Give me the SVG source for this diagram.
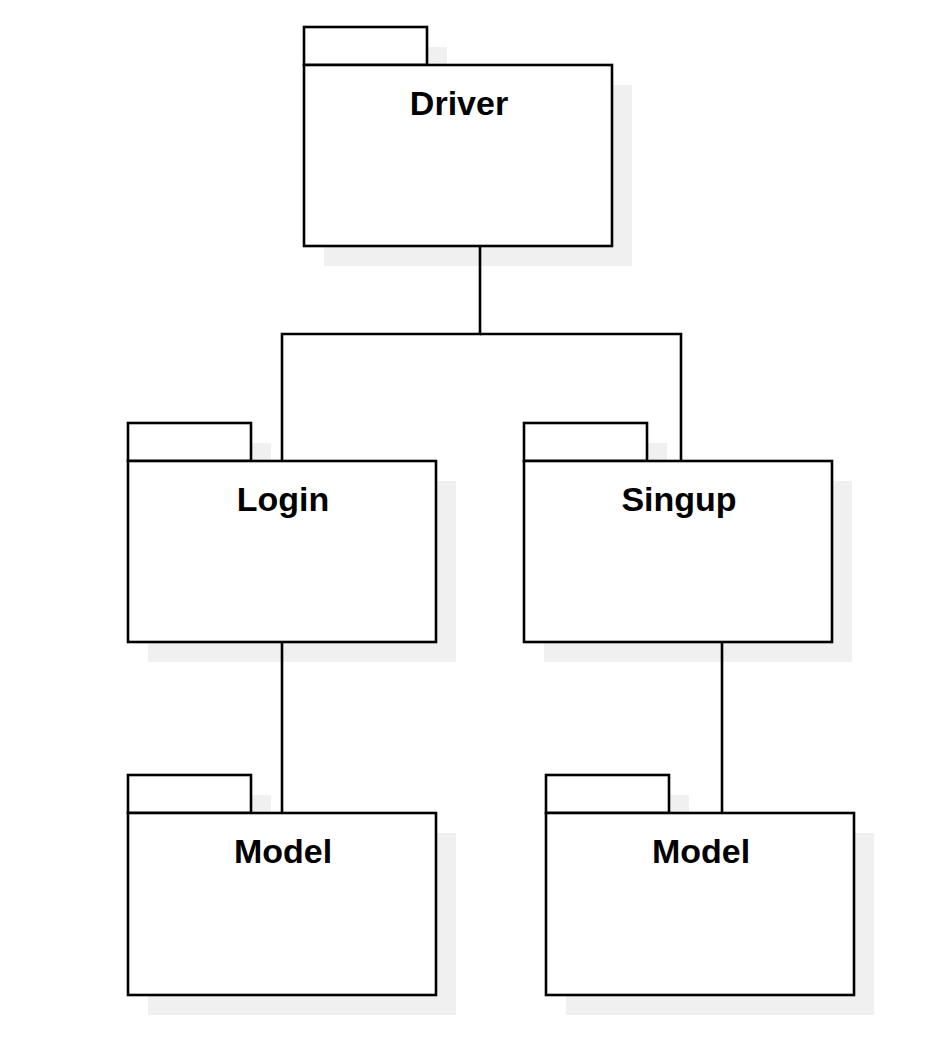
<svg xmlns="http://www.w3.org/2000/svg" width="948" height="1053" viewBox="0 0 948 1053">
<defs>
<style>
.sh{fill:#f0f0f0;stroke:none}
.bx{fill:#ffffff;stroke:#000000;stroke-width:2.6}
.lb{font-family:"Liberation Sans",Arial,sans-serif;font-weight:bold;font-size:34px;fill:#000000;text-anchor:middle}
.cn{fill:none;stroke:#000000;stroke-width:2.6}
</style>
</defs>
<rect width="948" height="1053" fill="#ffffff"/>
<g id="driver">
<rect class="sh" x="324" y="47" width="123" height="38"/>
<rect class="sh" x="324" y="85" width="308" height="181"/>
<rect class="bx" x="304" y="27" width="123" height="38"/>
<rect class="bx" x="304" y="65" width="308" height="181"/>
<text class="lb" x="459" y="115">Driver</text>
</g>
<g id="login">
<rect class="sh" x="148" y="443" width="123" height="38"/>
<rect class="sh" x="148" y="481" width="308" height="181"/>
<rect class="bx" x="128" y="423" width="123" height="38"/>
<rect class="bx" x="128" y="461" width="308" height="181"/>
<text class="lb" x="283" y="511">Login</text>
</g>
<g id="singup">
<rect class="sh" x="544" y="443" width="123" height="38"/>
<rect class="sh" x="544" y="481" width="308" height="181"/>
<rect class="bx" x="524" y="423" width="123" height="38"/>
<rect class="bx" x="524" y="461" width="308" height="181"/>
<text class="lb" x="679" y="511">Singup</text>
</g>
<g id="model1">
<rect class="sh" x="148" y="795" width="123" height="38"/>
<rect class="sh" x="148" y="833" width="308" height="182"/>
<rect class="bx" x="128" y="775" width="123" height="38"/>
<rect class="bx" x="128" y="813" width="308" height="182"/>
<text class="lb" x="283" y="863">Model</text>
</g>
<g id="model2">
<rect class="sh" x="566" y="795" width="123" height="38"/>
<rect class="sh" x="566" y="833" width="308" height="182"/>
<rect class="bx" x="546" y="775" width="123" height="38"/>
<rect class="bx" x="546" y="813" width="308" height="182"/>
<text class="lb" x="701" y="863">Model</text>
</g>
<g id="connectors">
<path class="cn" d="M480 246 V334 H282 V461"/>
<path class="cn" d="M480 334 H681 V461"/>
<path class="cn" d="M282 642 V813"/>
<path class="cn" d="M722 642 V813"/>
</g>
</svg>
